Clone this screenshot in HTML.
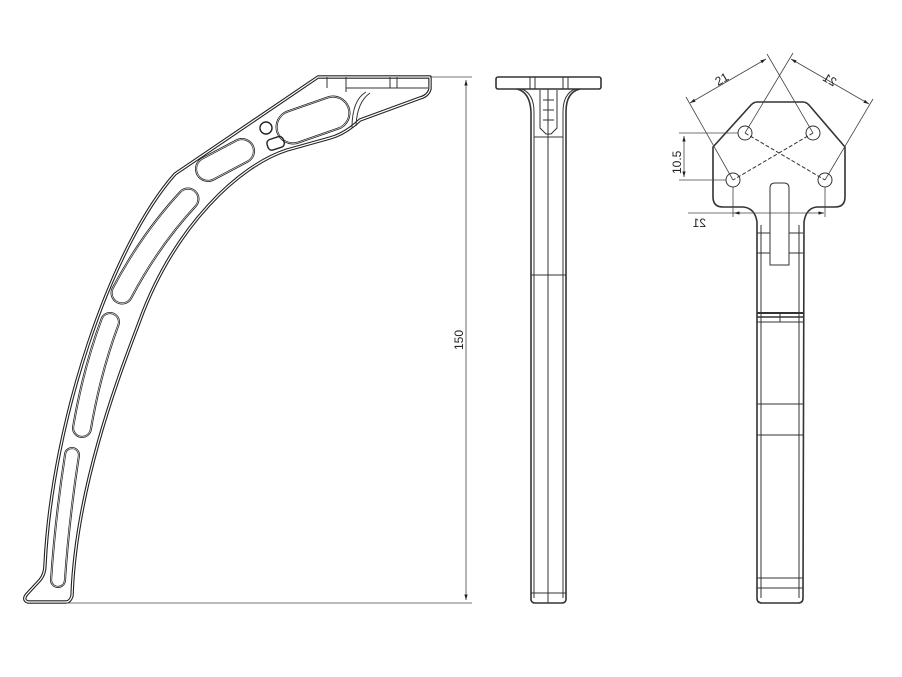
<!DOCTYPE html>
<html><head><meta charset="utf-8"><style>
html,body{margin:0;padding:0;background:#fff}
svg{display:block}
.t{fill:none;stroke:#333;stroke-width:1}
.h{fill:none;stroke:#444;stroke-width:0.8}
text{font-family:"Liberation Sans",sans-serif;font-size:12px;fill:#222}
</style></head><body>
<svg width="902" height="677" viewBox="0 0 902 677" xmlns="http://www.w3.org/2000/svg">
<defs>
<marker id="a" viewBox="0 0 10 10" refX="10" refY="5" markerWidth="7" markerHeight="7" orient="auto-start-reverse"><path d="M0,2 L10,5 L0,8 z" fill="#222"/></marker>
<path id="legp" d="M318,77 L430,77 L430,89 Q428,96 420,98 L360,120 Q345,134 330,138 L287,150 C240,165 175,225 140,320 C126,358 76,480 72,596 Q70,602 66,602 L28,602 Q22,600 27,594 L40,580 Q45,574 45,565 C52,420 112,245 175,174 Z"/>
<path id="s1" d="M72,455 Q62,520 58,580"/>
<path id="s2" d="M110,322 Q92,370 82,428"/>
<path id="s3" d="M188,199 Q150,240 122,293"/>
<path id="s4" d="M208,169 L242,151"/>
<path id="s5" d="M293,127 L333,113"/>
</defs>
<use href="#legp" fill="none" stroke="#222" stroke-width="3.4" stroke-linejoin="round"/>
<use href="#legp" fill="none" stroke="#fff" stroke-width="1.2" stroke-linejoin="round"/>
<g fill="none" stroke-linecap="round">
<g stroke="#222"><use href="#s1" stroke-width="16"/><use href="#s2" stroke-width="20"/><use href="#s3" stroke-width="23"/><use href="#s4" stroke-width="26"/><use href="#s5" stroke-width="35"/></g>
<g stroke="#fff"><use href="#s1" stroke-width="14.4"/><use href="#s2" stroke-width="18.4"/><use href="#s3" stroke-width="21.4"/><use href="#s4" stroke-width="24.4"/><use href="#s5" stroke-width="33.4"/></g>
<g stroke="#222"><use href="#s1" stroke-width="13.2"/><use href="#s2" stroke-width="17.2"/><use href="#s3" stroke-width="20.2"/><use href="#s4" stroke-width="23.2"/><use href="#s5" stroke-width="32.2"/></g>
<g stroke="#fff"><use href="#s1" stroke-width="11.8"/><use href="#s2" stroke-width="15.8"/><use href="#s3" stroke-width="18.8"/><use href="#s4" stroke-width="21.8"/><use href="#s5" stroke-width="30.8"/></g>
</g>
<g fill="none" stroke="#222" stroke-width="1.4">
<rect x="267" y="138" width="17" height="11" rx="4" transform="rotate(-18 275 143)"/>
<circle cx="266" cy="128" r="6"/>
</g>
<g class="t">
<line x1="327" y1="77" x2="327" y2="88"/><line x1="346" y1="77" x2="346" y2="92"/>
<line x1="390" y1="77" x2="390" y2="88"/><line x1="397" y1="77" x2="397" y2="88"/>
<path d="M346,88 L428,88"/>
<path d="M366,92 Q352,100 352,128"/><path d="M370,93 Q357,102 356,126"/>
</g>
<g class="h">
<line x1="430" y1="77" x2="472" y2="77"/>
<line x1="66" y1="603" x2="472" y2="603"/>
<line x1="466" y1="80" x2="466" y2="600" marker-start="url(#a)" marker-end="url(#a)"/>
</g>
<text transform="translate(463,350) rotate(-90)" font-size="11">150</text>

<g class="t" stroke-width="1.2">
<rect x="496" y="77" width="105" height="12" rx="2" stroke-width="1.6"/>
<line x1="530" y1="77" x2="530" y2="89"/><line x1="535" y1="77" x2="535" y2="89"/>
<line x1="563" y1="77" x2="563" y2="89"/><line x1="568" y1="77" x2="568" y2="89"/>
<path d="M517,89 Q530,92 531,112 L531,600 Q532,603 535,603 L562,603 Q565,603 566,600 L566,112 Q566,92 580,89" stroke-width="1.6"/>
<path d="M522,89 Q534,94 534,112 L534,598"/>
<path d="M575,89 Q563,94 563,112 L563,598"/>
<line x1="548" y1="89" x2="548" y2="603"/>
<path d="M540,90 L540,128 L546,134 L551,134 L557,128 L557,90"/>
<line x1="543" y1="100" x2="554" y2="100"/><line x1="543" y1="110" x2="554" y2="110"/><line x1="543" y1="120" x2="554" y2="120"/>
<line x1="534" y1="137" x2="563" y2="137"/>
<line x1="531" y1="275" x2="566" y2="275"/>
<line x1="531" y1="593" x2="566" y2="593"/>
</g>

<g class="t" stroke-width="1.2">
<path d="M757,102 L803,102 Q806,102 809,105 L845,147 L845,197 Q845,207 835,207 L817,207 Q806,208 804,222 L803,598 Q803,603 798,603 L762,603 Q757,603 757,598 L757,222 Q755,208 743,207 L723,207 Q713,207 713,197 L713,147 L751,105 Q754,102 757,102 Z" stroke-width="1.6"/>
<line x1="761" y1="225" x2="761" y2="598"/><line x1="799" y1="225" x2="799" y2="598"/>
<path d="M770,265 L770,188 Q770,183 775,183 L784,183 Q789,183 789,188 L789,265 Z"/>
<line x1="757" y1="233" x2="770" y2="233"/><line x1="789" y1="233" x2="803" y2="233"/>
<line x1="757" y1="253" x2="770" y2="253"/><line x1="789" y1="253" x2="803" y2="253"/>
<line x1="757" y1="313" x2="803" y2="313" stroke-width="2"/>
<line x1="757" y1="317" x2="803" y2="317" stroke-width="1.5"/>
<line x1="757" y1="322" x2="803" y2="322"/>
<line x1="780" y1="313" x2="780" y2="322"/>
<line x1="757" y1="404" x2="803" y2="404"/>
<line x1="757" y1="435" x2="803" y2="435"/>
<line x1="757" y1="578" x2="803" y2="578"/>
<line x1="757" y1="588" x2="803" y2="588"/>
<circle cx="745" cy="133" r="7"/><circle cx="813" cy="133" r="7"/>
<circle cx="733" cy="180" r="7"/><circle cx="825" cy="180" r="7"/>
<line x1="745" y1="133" x2="825" y2="180" stroke-dasharray="4,2"/>
<line x1="813" y1="133" x2="733" y2="180" stroke-dasharray="4,2"/>
</g>
<g class="h">
<line x1="733" y1="180" x2="686" y2="97"/>
<line x1="813" y1="133" x2="767" y2="54"/>
<line x1="690" y1="103" x2="766" y2="59" marker-start="url(#a)" marker-end="url(#a)"/>
<line x1="745" y1="133" x2="793" y2="53"/>
<line x1="825" y1="180" x2="873" y2="99"/>
<line x1="791" y1="59" x2="869" y2="104" marker-start="url(#a)" marker-end="url(#a)"/>
<line x1="738" y1="133" x2="679" y2="133"/>
<line x1="726" y1="180" x2="679" y2="180"/>
<line x1="684" y1="136" x2="684" y2="177" marker-start="url(#a)" marker-end="url(#a)"/>
<line x1="733" y1="187" x2="733" y2="217"/>
<line x1="825" y1="187" x2="825" y2="217"/>
<line x1="688" y1="213" x2="824" y2="213"/>
<line x1="740" y1="213" x2="734" y2="213" marker-end="url(#a)"/>
<line x1="818" y1="213" x2="824" y2="213" marker-end="url(#a)"/>
</g>
<text transform="translate(718,86) rotate(-30)" font-size="14">21</text>
<text transform="translate(822,80) rotate(30) scale(-1,1)" font-size="14" text-anchor="end">21</text>
<text transform="translate(681,174) rotate(-90)" font-size="13">10.5</text>
<text transform="translate(706,227) scale(-1,1)" font-size="14">21</text>
</svg>
</body></html>
